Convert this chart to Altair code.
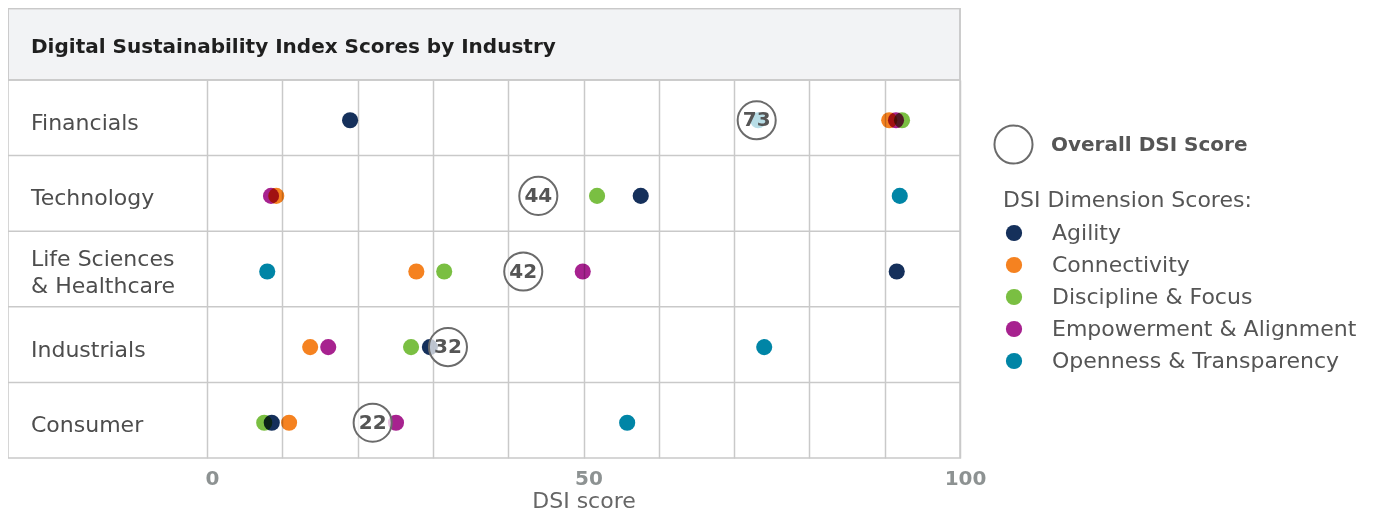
import altair as alt
import pandas as pd

# ---------------- data ----------------
industries = ["Financials", "Technology", "Life Sciences & Healthcare", "Industrials", "Consumer"]
industry_labels = ["Financials", "Technology", "Life Sciences\n& Healthcare", "Industrials", "Consumer"]
overall = [73, 44, 42, 32, 22]
dimensions = ["Agility", "Connectivity", "Discipline & Focus", "Empowerment & Alignment", "Openness & Transparency"]
agility = [19.0, 57.6, 91.6, 29.6, 8.6]
connectivity = [90.6, 9.2, 27.8, 13.7, 10.9]
discipline = [92.3, 51.8, 31.5, 27.1, 7.6]
empowerment = [91.5, 8.5, 49.9, 16.1, 25.1]
openness = [73.2, 92.0, 8.0, 74.0, 55.8]
dim_colors = ["#15305b", "#f58220", "#7abf42", "#a7228f", "#0085a6"]
x_ticks = list(range(0, 101, 10))
title_text = "Digital Sustainability Index Scores by Industry"
overall_label = "Overall DSI Score"

# ---------------- tables ----------------
series = [agility, connectivity, discipline, empowerment, openness]
dots_df = pd.DataFrame(
    [{"industry": ind, "dimension": dim, "score": vals[i]}
     for dim, vals in zip(dimensions, series)
     for i, ind in enumerate(industries)]
)
ov_df = pd.DataFrame({"industry": industries, "score": overall,
                      "kind": [overall_label] * len(industries)})
cat_df = pd.DataFrame({"industry": industries, "label": industry_labels})
one = pd.DataFrame({"k": [0]})

# ---------------- layout / style ----------------
W, H = 753, 378
PL, PT, PR, PB = 199, 72, 400, 54
FONT = "DejaVu Sans"
GRID = "#c9c9c9"
YOFF = 2.5

xscale = alt.Scale(domain=[0, 100], nice=False, zero=False)
xaxis = alt.Axis(
    values=x_ticks,
    labelExpr="datum.value % 50 === 0 ? datum.label : ''",
    grid=True, gridColor=GRID, gridWidth=1.5,
    domain=False, ticks=False,
    labelFont=FONT, labelFontSize=20, labelFontWeight="bold",
    labelColor="#8d9292", labelPadding=10, labelOffset=5,
    labelFlush=False, labelOverlap=False,
    title="DSI score", titleFont=FONT, titleFontSize=22,
    titleFontWeight="normal", titleColor="#666666", titlePadding=2,
)
yscale = alt.Scale(domain=industries, paddingInner=0, paddingOuter=0)
ycat = alt.Y("industry:N", sort=industries, scale=yscale, axis=None)

header = alt.Chart(one).mark_rect(fill="#f2f3f5", stroke=GRID, strokeWidth=1.5).encode(
    x=alt.value(-PL), x2=alt.value(W), y=alt.value(-71.5), y2=alt.value(0)
)
frame = alt.Chart(one).mark_rect(fill="white", fillOpacity=0, stroke=GRID, strokeWidth=1.5).encode(
    x=alt.value(-PL), x2=alt.value(W), y=alt.value(-71.5), y2=alt.value(H)
)
rows = alt.Chart(cat_df).mark_rule(color=GRID, strokeWidth=1.5).encode(
    y=alt.Y("industry:N", sort=industries, scale=yscale, axis=None, bandPosition=0),
    x=alt.value(-PL), x2=alt.value(W),
)
cat_style = dict(align="left", baseline="middle", font=FONT, fontSize=22,
                 color="#4d4d4d", lineBreak="\n", lineHeight=27)
cats_single = alt.Chart(cat_df).transform_filter(
    "indexof(datum.label, '\\n') < 0"
).mark_text(dy=5, **cat_style).encode(x=alt.value(-176), y=ycat, text="label:N")
cats_multi = alt.Chart(cat_df).transform_filter(
    "indexof(datum.label, '\\n') >= 0"
).mark_text(dy=-10.5, **cat_style).encode(x=alt.value(-176), y=ycat, text="label:N")
title = alt.Chart(one).mark_text(
    text=title_text, align="left", baseline="middle", font=FONT, fontSize=20,
    fontWeight="bold", color="#1f1f1f",
).encode(x=alt.value(-176), y=alt.value(-33))

dots = alt.Chart(dots_df).mark_circle(size=260, opacity=1, blend="multiply", yOffset=YOFF).encode(
    x=alt.X("score:Q", scale=xscale, axis=xaxis),
    y=ycat,
    color=alt.Color(
        "dimension:N", sort=dimensions,
        scale=alt.Scale(domain=dimensions, range=dim_colors),
        legend=alt.Legend(
            title="DSI Dimension Scores:", orient="none", legendX=796, legendY=110,
            padding=0, titleFont=FONT, titleFontSize=22, titleFontWeight="normal",
            titleColor="#555555", titlePadding=10, titleAnchor="start", titleLimit=400,
            labelFont=FONT, labelFontSize=22, labelColor="#555555", labelOffset=27,
            labelLimit=400, symbolType="circle", symbolSize=263, symbolStrokeWidth=0,
            symbolOpacity=1, rowPadding=10,
        ),
    ),
)

circles = alt.Chart(ov_df).mark_point(
    filled=False, fill="white", fillOpacity=0.72, strokeWidth=2, shape="circle",
    size=1450, opacity=1, yOffset=YOFF,
).encode(
    x=alt.X("score:Q", scale=xscale, axis=xaxis),
    y=ycat,
    stroke=alt.Stroke(
        "kind:N", scale=alt.Scale(domain=[overall_label], range=["#6b6b6b"]),
        legend=alt.Legend(
            title=None, orient="none", legendX=786, legendY=44, padding=0,
            symbolType="circle", symbolSize=1450, symbolFillColor="white",
            symbolStrokeWidth=2, symbolOpacity=1,
            labelFont=FONT, labelFontSize=20, labelFontWeight="bold",
            labelColor="#555555", labelOffset=17, labelLimit=400,
        ),
    ),
)

nums = alt.Chart(ov_df).mark_text(
    font=FONT, fontSize=20, fontWeight="bold", color="#555555",
    align="center", baseline="middle", yOffset=YOFF,
).encode(x=alt.X("score:Q", scale=xscale, axis=xaxis), y=ycat, text="score:Q")

chart = alt.layer(header, frame, rows, cats_single, cats_multi, title, dots, circles, nums).properties(
    width=W, height=H,
    padding={"left": PL, "top": PT, "right": PR, "bottom": PB},
    autosize=alt.AutoSizeParams(type="none"),
    background="white",
).configure_view(strokeWidth=0)

chart.save("out.html", embed_options={"renderer": "svg", "actions": False})
